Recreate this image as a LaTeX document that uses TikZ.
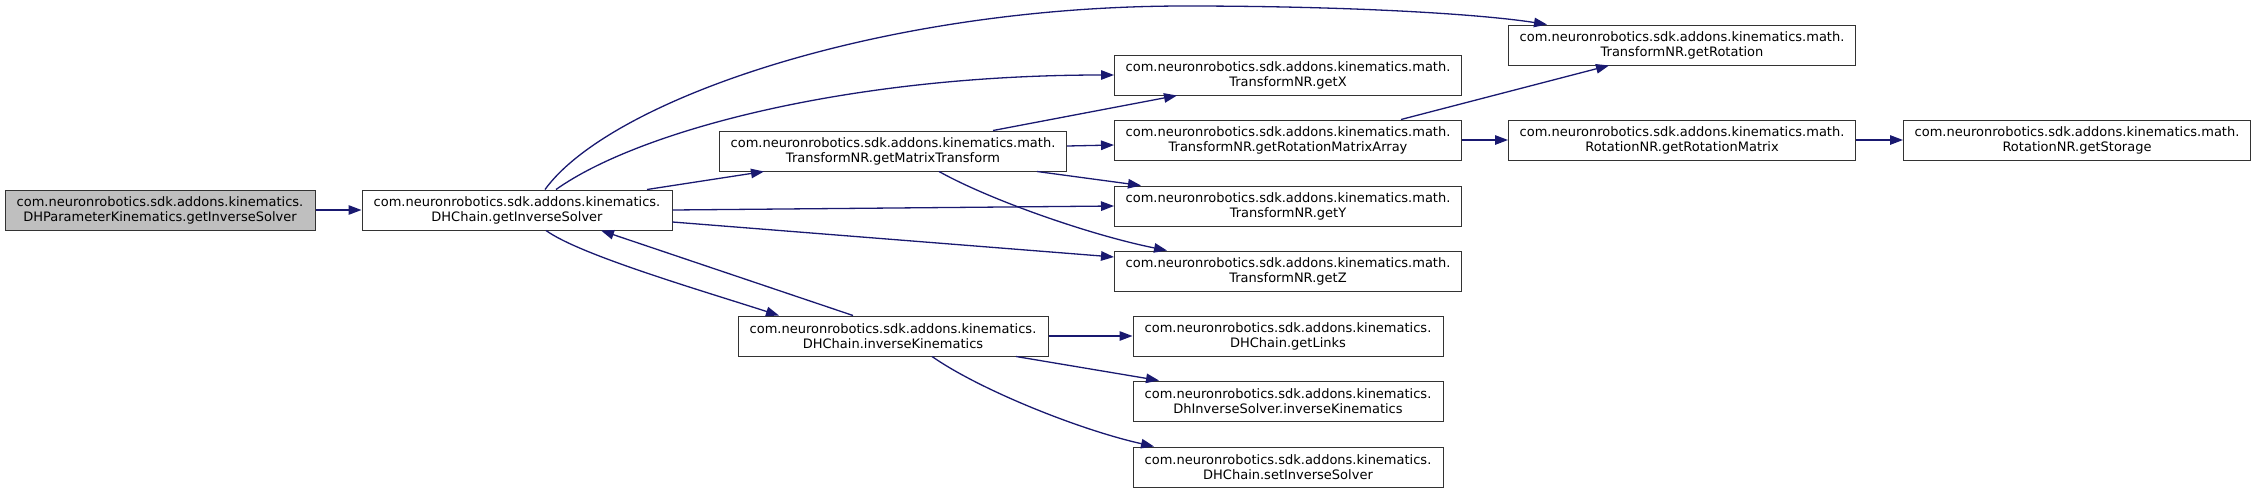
\documentclass[tikz,border=0pt]{standalone}
\usepackage{fontspec}
\setmainfont{DejaVu Sans}
\usepackage{tikz}
\usetikzlibrary{arrows.meta}
\definecolor{edgeblue}{HTML}{191970}
\definecolor{nodegrey}{HTML}{BFBFBF}

\begin{document}
\begin{tikzpicture}[x=1pt, y=-1pt,
  fn/.style={draw=black!80, line width=1pt, minimum width=347pt, minimum height=40pt,
             inner sep=0pt, align=center, font=\fontsize{13}{15}\selectfont},
  fnshort/.style={fn, minimum width=310pt},
  call/.style={-{Triangle[length=13pt, width=9.5pt]}, draw=edgeblue, line width=1.3pt}
]
  \useasboundingbox (0,0) rectangle (2256,493);
  % caller and first level
  \node[fnshort, fill=nodegrey] (dhpk)   at (160,210) {com.neuronrobotics.sdk.addons.kinematics.\\DHParameterKinematics.getInverseSolver};
  \node[fnshort]                (getinv) at (517,210) {com.neuronrobotics.sdk.addons.kinematics.\\DHChain.getInverseSolver};
  \node[fn]                     (matrix) at (893,151) {com.neuronrobotics.sdk.addons.kinematics.math.\\TransformNR.getMatrixTransform};
  \node[fnshort]                (invkin) at (893,336) {com.neuronrobotics.sdk.addons.kinematics.\\DHChain.inverseKinematics};
  % third column
  \node[fn]      (getx)     at (1288,75)  {com.neuronrobotics.sdk.addons.kinematics.math.\\TransformNR.getX};
  \node[fn]      (rotarr)   at (1288,140) {com.neuronrobotics.sdk.addons.kinematics.math.\\TransformNR.getRotationMatrixArray};
  \node[fn]      (gety)     at (1288,206) {com.neuronrobotics.sdk.addons.kinematics.math.\\TransformNR.getY};
  \node[fn]      (getz)     at (1288,271) {com.neuronrobotics.sdk.addons.kinematics.math.\\TransformNR.getZ};
  \node[fnshort] (links)    at (1288,336) {com.neuronrobotics.sdk.addons.kinematics.\\DHChain.getLinks};
  \node[fnshort] (dhsolver) at (1288,401) {com.neuronrobotics.sdk.addons.kinematics.\\DhInverseSolver.inverseKinematics};
  \node[fnshort] (setinv)   at (1288,467) {com.neuronrobotics.sdk.addons.kinematics.\\DHChain.setInverseSolver};
  % right columns
  \node[fn] (getrot)  at (1682,45)  {com.neuronrobotics.sdk.addons.kinematics.math.\\TransformNR.getRotation};
  \node[fn] (rotmat)  at (1682,140) {com.neuronrobotics.sdk.addons.kinematics.math.\\RotationNR.getRotationMatrix};
  \node[fn] (storage) at (2077,140) {com.neuronrobotics.sdk.addons.kinematics.math.\\RotationNR.getStorage};

  % calls
  \draw[call] (dhpk) -- (getinv);
  \draw[call] ([xshift=28pt]getinv.north) .. controls (610,100) and (880,6) .. (1185,6)
              .. controls (1350,6) and (1480,14) .. ([xshift=-135pt]getrot.north);
  \draw[call] ([xshift=39pt]getinv.north) .. controls (640,130) and (850,75) .. (getx.west);
  \draw[call] ([xshift=130pt]getinv.north) -- ([xshift=-129pt]matrix.south);
  \draw[call] (getinv.east) -- (gety.west);
  \draw[call] ([yshift=-12pt]getinv.east) -- ([yshift=14pt]getz.west);
  \draw[call] ([xshift=29pt]getinv.south) .. controls (580,255) and (700,290) .. ([xshift=-114pt]invkin.north);
  \draw[call] ([xshift=-40pt]invkin.north) -- ([xshift=84pt]getinv.south);
  \draw[call] ([xshift=100pt]matrix.north) -- ([xshift=-111pt]getx.south);
  \draw[call] ([yshift=5pt]matrix.east) -- ([yshift=-5pt]rotarr.west);
  \draw[call] ([xshift=144pt]matrix.south) -- ([xshift=-147pt]gety.north);
  \draw[call] ([xshift=46pt]matrix.south) .. controls (990,200) and (1090,235) .. ([xshift=-121pt]getz.north);
  \draw[call] ([xshift=113pt]rotarr.north) -- ([xshift=-73pt]getrot.south);
  \draw[call] (rotarr) -- (rotmat);
  \draw[call] (rotmat) -- (storage);
  \draw[call] (invkin) -- (links);
  \draw[call] ([xshift=123pt]invkin.south) -- ([xshift=-129pt]dhsolver.north);
  \draw[call] ([xshift=39pt]invkin.south) .. controls (980,390) and (1080,430) .. ([xshift=-134pt]setinv.north);
\end{tikzpicture}
\end{document}
